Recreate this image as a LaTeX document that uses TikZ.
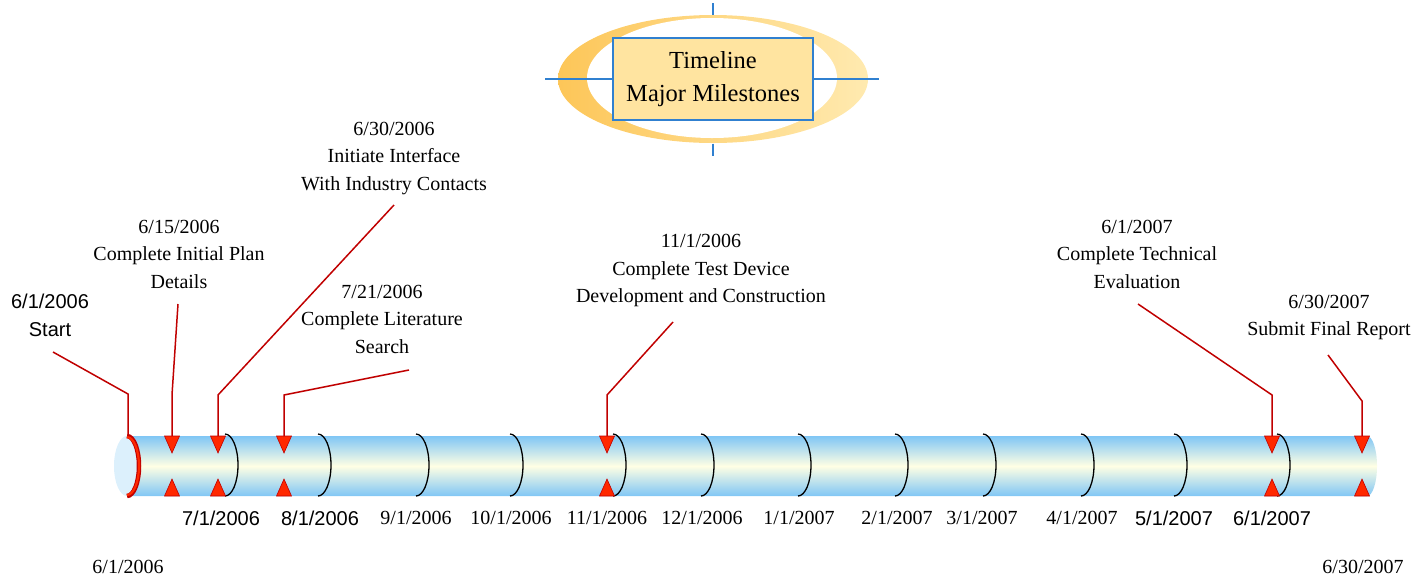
\documentclass[tikz,border=0pt]{standalone}
\usepackage{fontspec}
\setmainfont{Liberation Serif}
\setsansfont{Liberation Sans}
\definecolor{ringdark}{RGB}{253,198,88}
\definecolor{ringlight}{RGB}{255,234,176}
\definecolor{boxfill}{RGB}{255,228,160}
\definecolor{boxline}{RGB}{48,128,208}
\definecolor{tubeedge}{RGB}{128,198,245}
\definecolor{tubemid}{RGB}{255,255,228}
\definecolor{capfill}{RGB}{220,240,252}
\definecolor{darkred}{RGB}{192,0,0}
\definecolor{trired}{RGB}{255,40,0}
\tikzset{>=stealth}
\tikzset{conn/.style={draw=darkred, line width=1.5pt},
  tri/.style={fill=trired, draw=darkred, line width=0.6pt, line join=miter},
  cross/.style={draw=boxline, line width=1.2pt},
  monthtick/.style={draw=black, line width=1.3pt},
  titlebox/.style={draw=boxline, fill=boxfill, line width=1.2pt, minimum width=200pt, minimum height=82pt, font=\fontsize{24.5}{33}\selectfont}}

\begin{document}
\begin{tikzpicture}[x=1pt, y=-1pt, every node/.style={inner sep=0pt, align=center, font=\fontsize{20}{27.5}\selectfont}]
	\useasboundingbox (0,0) rectangle (1420,579);
	\shade[left color=ringdark, right color=ringlight] (713,79) ellipse [x radius=155pt, y radius=64pt];
	\fill[white] (712,78) ellipse [x radius=125pt, y radius=60pt];
	\node[titlebox] (title) at (713,79) {Timeline\\Major Milestones};
	\draw[cross] ([xshift=-67pt]title.west) -- (title.west);
	\draw[cross] (title.east) -- ([xshift=65pt]title.east);
	\draw[cross] ([yshift=34pt]title.north) -- ([yshift=22pt]title.north);
	\draw[cross] ([yshift=-23pt]title.south) -- ([yshift=-35pt]title.south);
	\shade[top color=tubeedge, bottom color=tubeedge, middle color=tubemid] (127,436) -- (1367,436) arc [start angle=90, end angle=-90, x radius=10pt, y radius=30pt] -- (127,496) -- cycle;
	\fill[capfill] (127,466) ellipse [x radius=13pt, y radius=30pt];
	\draw[darkred, line width=4.5pt] (127,436) arc [start angle=90, end angle=-90, x radius=12pt, y radius=30pt];
	\draw[trired, line width=2.2pt] (127,437) arc [start angle=90, end angle=-90, x radius=12pt, y radius=29pt];
	\foreach \x in {225,318,416,510,613,701,798,895,983,1081,1174,1277}
	\draw[monthtick] (\x,434) arc [start angle=90, end angle=-90, x radius=13pt, y radius=31pt];
	\foreach \x in {172,218,284,607,1272,1362} {
	\draw[tri] (\x-7.5,436) -- (\x+7.5,436) -- (\x,453) -- cycle;
	\draw[tri] (\x-7.5,496) -- (\x+7.5,496) -- (\x,479) -- cycle;
	}
	\node[font=\fontsize{20}{27.5}\selectfont\sffamily] (start) at (50,315.5) {6/1/2006\\Start};
	\node (plan) at (179,254) {6/15/2006\\Complete Initial Plan\\Details};
	\node (contacts) at (394,158.5) {6/30/2006\\Initiate Interface\\With Industry Contacts};
	\node (search) at (382,319) {7/21/2006\\Complete Literature\\Search};
	\node (device) at (701,270.5) {11/1/2006\\Complete Test Device\\Development and Construction};
	\node (evaluation) at (1137,254) {6/1/2007\\Complete Technical\\Evaluation};
	\node (report) at (1329,317.5) {6/30/2007\\Submit Final Report};
	\foreach \i/\ax/\ay/\bx/\by in {0/53/352/128/394, 1/178/304/172/395, 2/394/205/218/395, 3/409/370/284/395, 4/673/322/607/395, 5/1138/304/1272/395, 6/1328/355/1362/401} {
	\coordinate (a\i) at (\ax,\ay);
	\coordinate (b\i) at (\bx,\by);
	\coordinate (t\i) at (\bx,436);
	\draw[conn] (a\i) -- (b\i) -- (t\i);
	}
	\foreach \x/\m/\yr/\f in {221/7/2006/sf, 320/8/2006/sf, 416/9/2006/rm, 511/10/2006/rm, 607/11/2006/rm, 702/12/2006/rm, 799/1/2007/rm, 897/2/2007/rm, 982/3/2007/rm, 1082/4/2007/rm, 1174/5/2007/sf, 1272/6/2007/sf}
	\node[font=\fontsize{20}{24}\selectfont\csname\f family\endcsname] (d\m-\yr) at (\x,518) {\m/1/\yr};
	\node (first) at (128,567) {6/1/2006};
	\node (last) at (1363,567) {6/30/2007};
\end{tikzpicture}
\end{document}
